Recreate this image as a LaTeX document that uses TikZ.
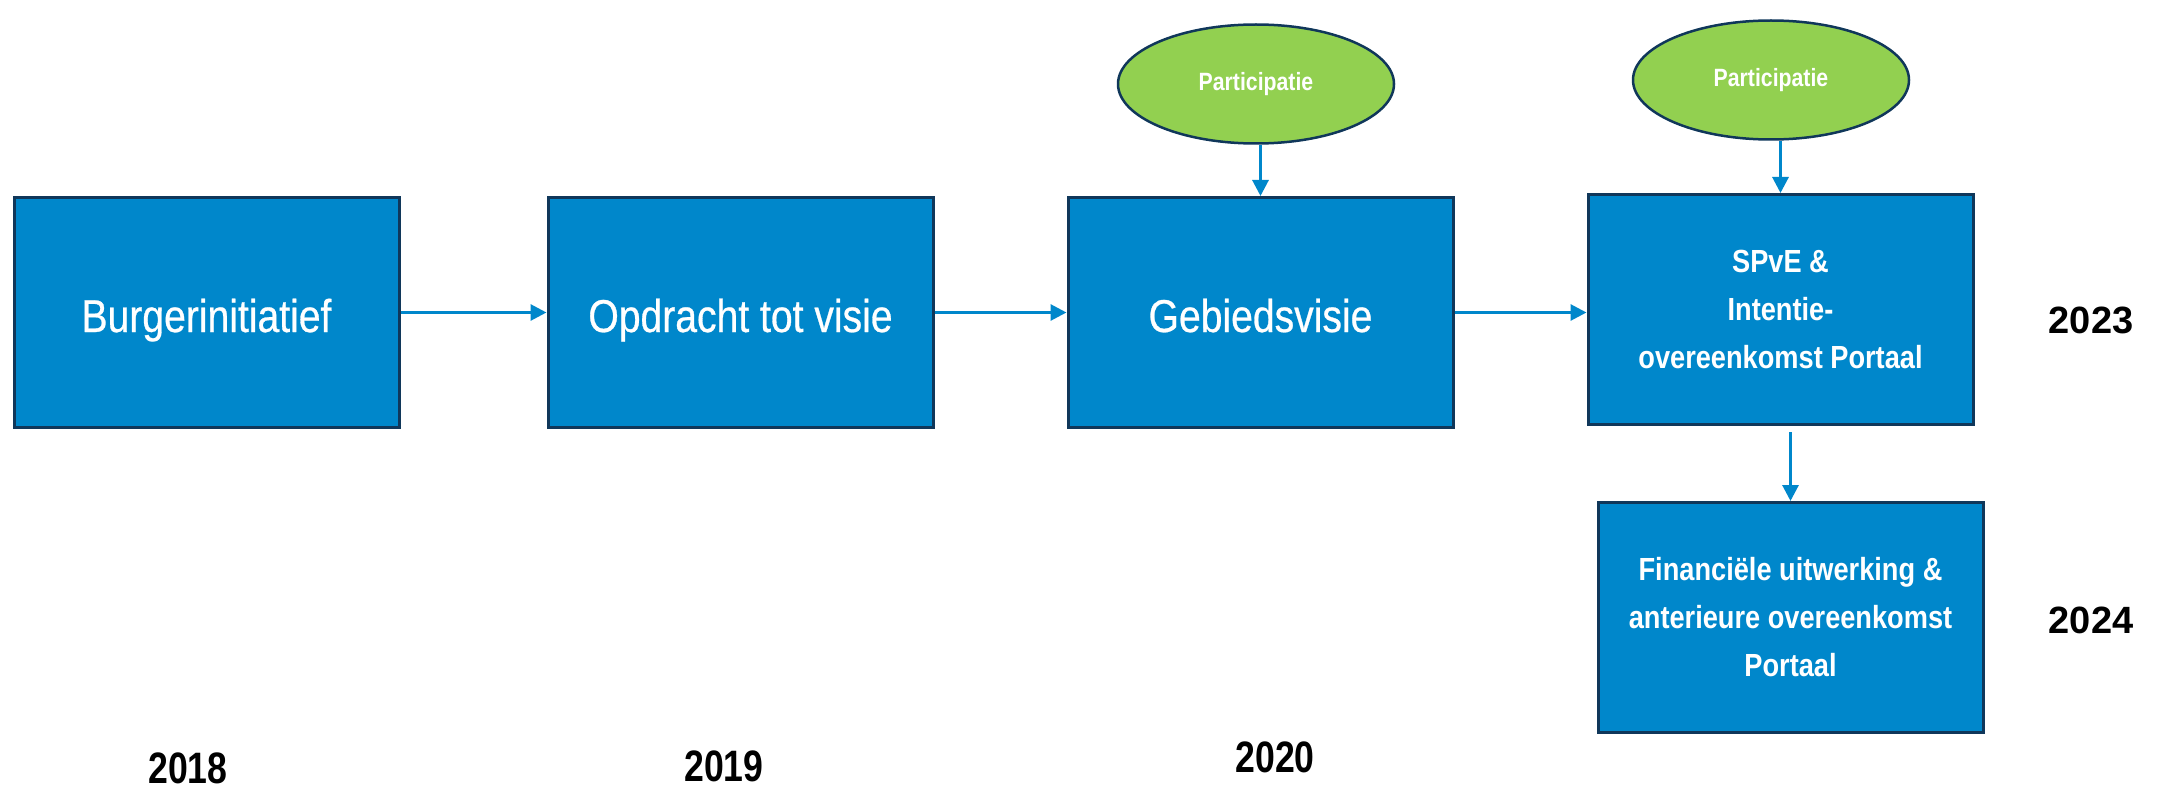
\documentclass[tikz,border=0pt]{standalone}
\usepackage{fontspec}
\usetikzlibrary{arrows.meta,shapes.geometric}
\setmainfont{Liberation Sans}
\newfontfamily\condfont[FakeStretch=0.85,FakeBold=0.6]{Liberation Sans}
\newfontfamily\partfont[FakeStretch=0.85]{Liberation Sans Bold}
\newfontfamily\yearfont[FakeStretch=0.81]{Liberation Sans Bold}
\newfontfamily\midfont[FakeStretch=0.85]{Liberation Sans}
\definecolor{boxblue}{RGB}{0,135,203}
\definecolor{navy}{RGB}{16,55,90}
\definecolor{leaf}{RGB}{146,208,80}
\newcommand{\lowtext}[1]{\raisebox{-19.5pt}[0pt][0pt]{#1}}
\tikzset{
  stagebox/.style={draw=navy, line width=3pt, fill=boxblue, minimum width=385pt, minimum height=230pt, text=white, align=center, inner sep=0pt},
  bigtext/.style={font=\condfont\fontsize{46}{52}\selectfont},
  smalltext/.style={font=\midfont\bfseries\fontsize{32}{48}\selectfont},
  partic/.style={ellipse, draw=navy, line width=2.5pt, fill=leaf, minimum width=276pt, minimum height=119pt, text=white, inner sep=0pt, font=\partfont\fontsize{25}{30}\selectfont},
  flow/.style={draw=boxblue, line width=3pt, -{Triangle[length=16pt,width=16pt]}},
  yearc/.style={font=\yearfont\fontsize{44}{50}\selectfont},
  yearw/.style={font=\bfseries\fontsize{38}{44}\selectfont}
}
\begin{document}
\begin{tikzpicture}[x=1pt,y=-1pt]
\useasboundingbox (0,0) rectangle (2164,789);
\node[stagebox, bigtext] (b1) at (206.5,312.5) {\lowtext{Burgerinitiatief}};
\node[stagebox, bigtext] (b2) at (740.5,312.5) {\lowtext{Opdracht tot visie}};
\node[stagebox, bigtext] (b3) at (1260.5,312.5) {\lowtext{Gebiedsvisie}};
\node[stagebox, smalltext] (b4) at (1780.5,309.5) {SPvE \&\\Intentie-\\overeenkomst Portaal};
\node[stagebox, smalltext] (b5) at (1790.5,617.5) {Financiële uitwerking \&\\anterieure overeenkomst\\Portaal};
\node[partic] (e1) at (1256,84) {Participatie};
\node[partic] (e2) at (1771,80) {Participatie};
\draw[flow] (b1.east) -- (b2.west);
\draw[flow] (b2.east) -- (b3.west);
\draw[flow] (b3.east) -- (b3.east -| b4.west);
\draw[flow] (b3.north |- e1.south) -- (b3.north);
\draw[flow] (b4.north |- e2.south) -- (b4.north);
\draw[flow, shorten <=6pt] (b5.north |- b4.south) -- (b5.north);
\node[yearc] (y18) at (188,768) {2018};
\node[yearc] (y19) at (724,766) {2019};
\node[yearc] (y20) at (1275,757) {2020};
\node[yearw] (y23) at (2091,320) {2023};
\node[yearw] (y24) at (2091,620) {2024};
\end{tikzpicture}
\end{document}
